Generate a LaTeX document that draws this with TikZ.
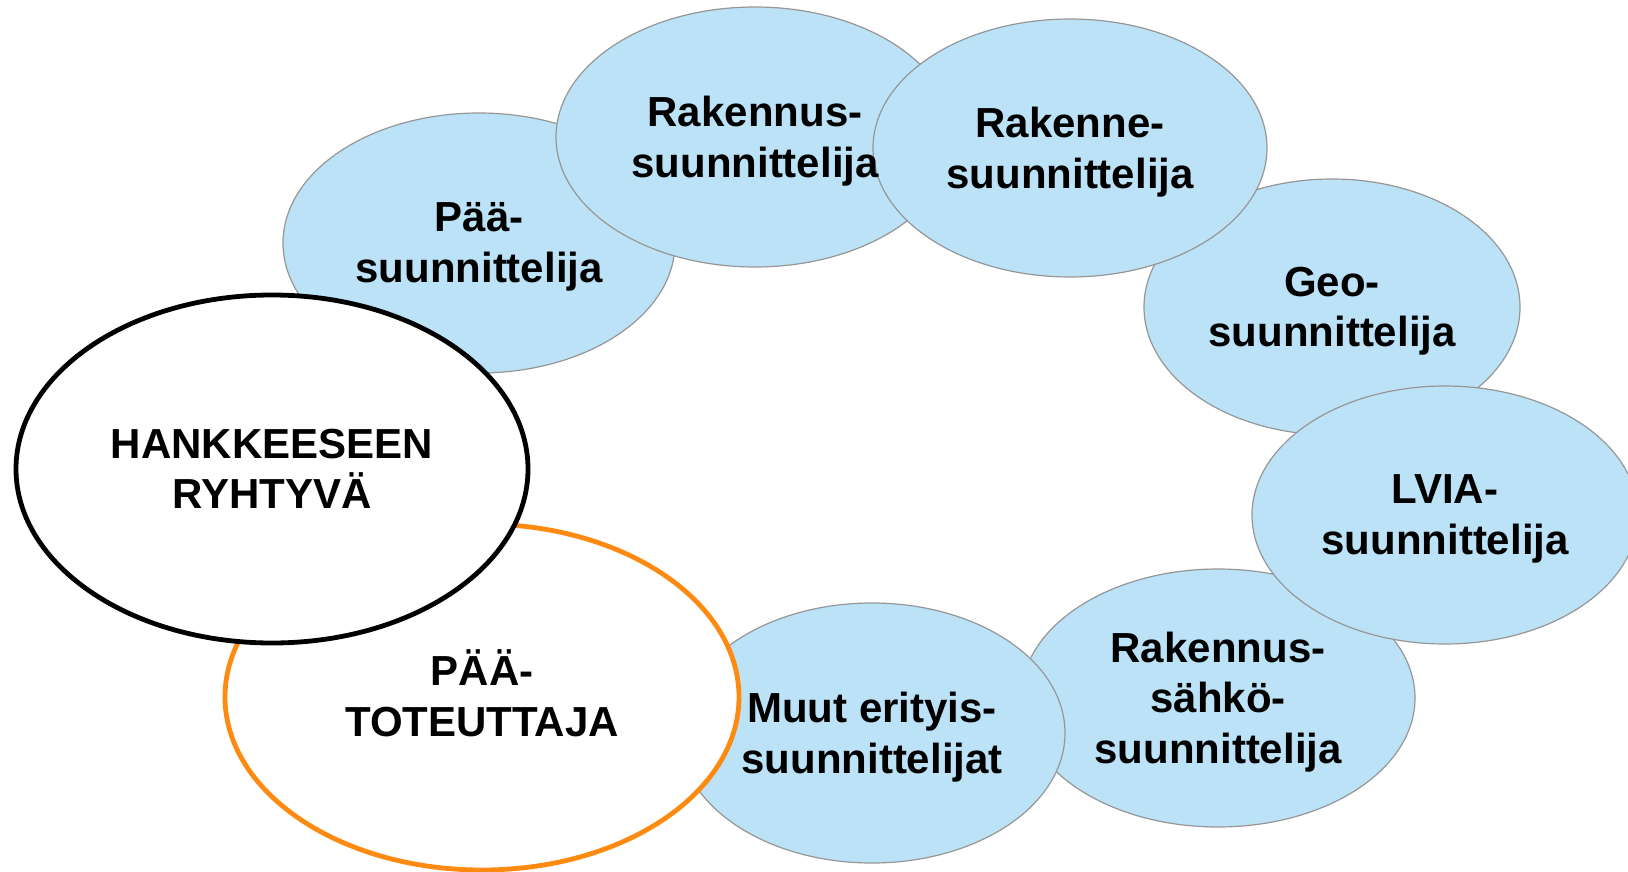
\documentclass[tikz,border=0pt]{standalone}
\usepackage{fontspec}
\setmainfont{Liberation Sans}
\usetikzlibrary{shapes.geometric}
\definecolor{blobfill}{RGB}{187,226,247}
\definecolor{blobline}{RGB}{150,150,150}
\definecolor{orangeline}{RGB}{255,138,18}
\begin{document}
\begin{tikzpicture}[x=0.5pt,y=-0.5pt,
  blob/.style={ellipse, draw=blobline, fill=blobfill, line width=0.6pt, inner sep=0pt, outer sep=0pt},
  mainblob/.style={ellipse, fill=white, line width=2.4pt, inner sep=0pt, outer sep=0pt},
  lbl/.style={align=center, font=\fontsize{21}{25.3}\selectfont\bfseries, inner sep=0pt, text=black}]
\useasboundingbox (0,0) rectangle (1628,872);
% shapes, back to front (sizes: width = 2rx px = rx pt)
\node[blob, minimum width=188pt, minimum height=128pt] (geo) at (1332,307) {};
\node[blob, minimum width=197pt, minimum height=129pt] (sahko) at (1218,698) {};
\node[blob, minimum width=193pt, minimum height=129pt] (lvia) at (1445,515) {};
\node[blob, minimum width=193pt, minimum height=130pt] (muut) at (872,733) {};
\node[blob, minimum width=196pt, minimum height=130pt] (paasu) at (479,243) {};
\node[blob, minimum width=199pt, minimum height=130pt] (rakennus) at (755,137) {};
\node[blob, minimum width=197pt, minimum height=129pt] (rakenne) at (1070,148) {};
\node[mainblob, draw=orangeline, minimum width=257pt, minimum height=173pt] (paatot) at (482,697) {};
\node[mainblob, draw=black, minimum width=256pt, minimum height=174pt] (hank) at (272,469) {};
% labels
\node[lbl] (geot) at ([yshift=-2pt]geo.center) {Geo-\\suunnittelija};
\node[lbl] (sahkot) at ([yshift=-2pt]sahko.center) {Rakennus-\\sähkö-\\suunnittelija};
\node[lbl] (lviat) at ([yshift=-2pt]lvia.center) {LVIA-\\suunnittelija};
\node[lbl] (muutt) at ([yshift=-2pt]muut.center) {Muut erityis-\\suunnittelijat};
\node[lbl] (paasut) at ([yshift=-2pt]paasu.center) {Pää-\\suunnittelija};
\node[lbl] (rakennust) at ([yshift=-2pt]rakennus.center) {Rakennus-\\suunnittelija};
\node[lbl] (rakennet) at ([yshift=-2pt]rakenne.center) {Rakenne-\\suunnittelija};
\node[lbl] (paatott) at ([yshift=1.75pt]paatot.center) {PÄÄ-\\TOTEUTTAJA};
\node[lbl] (hankt) at (hank.center) {HANKKEESEEN\\RYHTYVÄ};
\end{tikzpicture}
\end{document}
